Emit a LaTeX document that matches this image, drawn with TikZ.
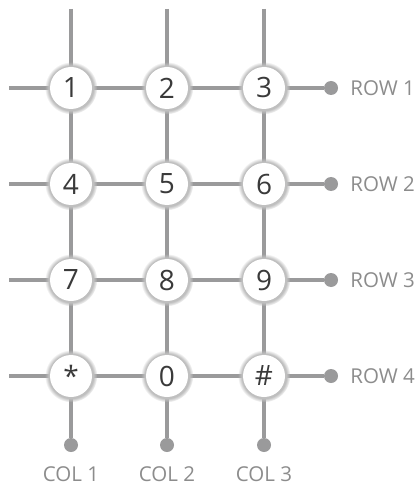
\documentclass[tikz,border=0pt]{standalone}
\usepackage{fontspec}
\setmainfont{Open Sans}
\usepackage{tikz}
\usetikzlibrary{positioning,shadows,backgrounds}
\definecolor{wiregray}{HTML}{9A9A9B}
\definecolor{keytext}{HTML}{3A3A3A}
\definecolor{labeltext}{HTML}{8C8C8C}

\tikzset{
  key/.style={circle, fill=white, minimum size=42pt, inner sep=0pt,
    text=keytext, font=\fontsize{28}{28}\selectfont,
    circular glow={fill=black!25}},
  wire/.style={draw=wiregray, line width=4pt},
  pin/.style={circle, fill=wiregray, minimum size=14pt, inner sep=0pt},
  lbl/.style={text=labeltext, inner sep=0pt, font=\fontsize{20.5}{20.5}\selectfont}
}

\begin{document}
\begin{tikzpicture}[x=1pt,y=-1pt]
\useasboundingbox (0,0) rectangle (417,486);

% keys
\node[key] (k1) at (71,88) {1};
\node[key] (k2) at (167,88) {2};
\node[key] (k3) at (264,88) {3};
\node[key] (k4) at (71,184) {4};
\node[key] (k5) at (167,184) {5};
\node[key] (k6) at (264,184) {6};
\node[key] (k7) at (71,280) {7};
\node[key] (k8) at (167,280) {8};
\node[key] (k9) at (264,280) {9};
\node[key] (kstar) at (71,376) {*};
\node[key] (k0) at (167,376) {0};
\node[key] (khash) at (264,376) {\#};

% free ends
\coordinate (w1) at (9,88);
\coordinate (w2) at (9,184);
\coordinate (w3) at (9,280);
\coordinate (w4) at (9,376);
\coordinate (n1) at (71,9);
\coordinate (n2) at (167,9);
\coordinate (n3) at (264,9);

% pins
\node[pin] (r1) at (331,88) {};
\node[pin] (r2) at (331,184) {};
\node[pin] (r3) at (331,280) {};
\node[pin] (r4) at (331,376) {};
\node[pin] (c1) at (71,445) {};
\node[pin] (c2) at (167,445) {};
\node[pin] (c3) at (264,445) {};

\node[lbl, right=12pt of r1] (row1) {ROW 1};
\node[lbl, right=12pt of r2] (row2) {ROW 2};
\node[lbl, right=12pt of r3] (row3) {ROW 3};
\node[lbl, right=12pt of r4] (row4) {ROW 4};
\node[lbl, below=14pt of c1] (col1) {COL 1};
\node[lbl, below=14pt of c2] (col2) {COL 2};
\node[lbl, below=14pt of c3] (col3) {COL 3};

\begin{pgfonlayer}{background}
\draw[wire] (w1) -- (k1) -- (k2) -- (k3) -- (r1);
\draw[wire] (w2) -- (k4) -- (k5) -- (k6) -- (r2);
\draw[wire] (w3) -- (k7) -- (k8) -- (k9) -- (r3);
\draw[wire] (w4) -- (kstar) -- (k0) -- (khash) -- (r4);
\draw[wire] (n1) -- (k1) -- (k4) -- (k7) -- (kstar) -- (c1);
\draw[wire] (n2) -- (k2) -- (k5) -- (k8) -- (k0) -- (c2);
\draw[wire] (n3) -- (k3) -- (k6) -- (k9) -- (khash) -- (c3);
\end{pgfonlayer}
\end{tikzpicture}
\end{document}
